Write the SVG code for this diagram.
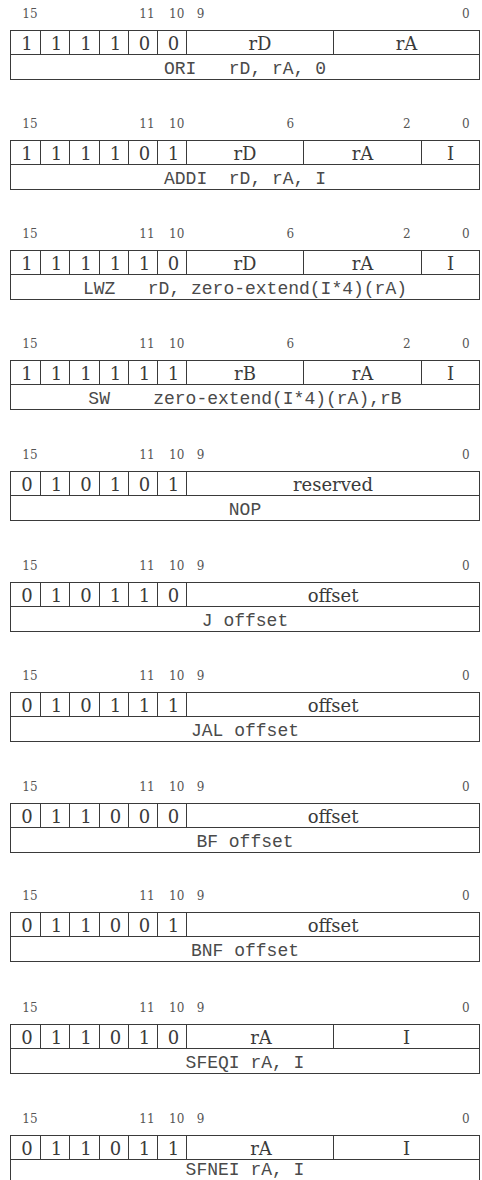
<svg xmlns="http://www.w3.org/2000/svg" xmlns:xlink="http://www.w3.org/1999/xlink" width="482" height="1180" viewBox="0 0 482 1180">
<style>
.box{fill:#fff;stroke:#3a3a3a;stroke-width:1}
.ln{fill:none;stroke:#3a3a3a;stroke-width:1}
.bit{font-family:"DejaVu Serif",serif;font-size:18px;fill:#3a3a3a;text-anchor:middle}
.lbl{font-family:"DejaVu Serif",serif;font-size:12px;fill:#555;text-anchor:middle}
.asm{font-family:"Liberation Mono",monospace;font-size:18px;fill:#4a4a4a;text-anchor:middle;white-space:pre}
</style>
<defs>
<g id="frame">
<rect class="box" x="10.5" y="0" width="469" height="49"/>
<path class="ln" d="M10.5 24H479.5M40.5 0V24M69.5 0V24M99.5 0V24M128.5 0V24M157.5 0V24M186.5 0V24"/>
</g>
</defs>
<rect x="0" y="0" width="482" height="1180" fill="#fff"/>
<g id="connectors"></g>

<g id="ori" transform="translate(0,30.5)">
<use href="#frame"/>
<path class="ln" d="M333.5 0V24"/>
<text class="lbl" x="30" y="-13">15</text><text class="lbl" x="147" y="-13">11</text><text class="lbl" x="176.7" y="-13">10</text><text class="lbl" x="200.5" y="-13">9</text><text class="lbl" x="465.8" y="-13">0</text>
<text class="bit" x="27" y="19">1</text><text class="bit" x="56.5" y="19">1</text><text class="bit" x="86" y="19">1</text><text class="bit" x="115.5" y="19">1</text><text class="bit" x="144.5" y="19">0</text><text class="bit" x="173.5" y="19">0</text>
<text class="bit" x="260" y="19">rD</text><text class="bit" x="406.5" y="19">rA</text>
<text class="asm" x="245" y="43" xml:space="preserve">ORI   rD, rA, 0</text>
</g>

<g id="addi" transform="translate(0,140.5)">
<use href="#frame"/>
<path class="ln" d="M303.5 0V24M421.5 0V24"/>
<text class="lbl" x="30" y="-13">15</text><text class="lbl" x="147" y="-13">11</text><text class="lbl" x="176.7" y="-13">10</text><text class="lbl" x="290.3" y="-13">6</text><text class="lbl" x="406.7" y="-13">2</text><text class="lbl" x="465.8" y="-13">0</text>
<text class="bit" x="27" y="19">1</text><text class="bit" x="56.5" y="19">1</text><text class="bit" x="86" y="19">1</text><text class="bit" x="115.5" y="19">1</text><text class="bit" x="144.5" y="19">0</text><text class="bit" x="173.5" y="19">1</text>
<text class="bit" x="245" y="19">rD</text><text class="bit" x="362.5" y="19">rA</text><text class="bit" x="450.5" y="19">I</text>
<text class="asm" x="245" y="43" xml:space="preserve">ADDI  rD, rA, I</text>
</g>

<g id="lwz" transform="translate(0,250.5)">
<use href="#frame"/>
<path class="ln" d="M303.5 0V24M421.5 0V24"/>
<text class="lbl" x="30" y="-13">15</text><text class="lbl" x="147" y="-13">11</text><text class="lbl" x="176.7" y="-13">10</text><text class="lbl" x="290.3" y="-13">6</text><text class="lbl" x="406.7" y="-13">2</text><text class="lbl" x="465.8" y="-13">0</text>
<text class="bit" x="27" y="19">1</text><text class="bit" x="56.5" y="19">1</text><text class="bit" x="86" y="19">1</text><text class="bit" x="115.5" y="19">1</text><text class="bit" x="144.5" y="19">1</text><text class="bit" x="173.5" y="19">0</text>
<text class="bit" x="245" y="19">rD</text><text class="bit" x="362.5" y="19">rA</text><text class="bit" x="450.5" y="19">I</text>
<text class="asm" x="245" y="43" xml:space="preserve">LWZ   rD, zero-extend(I*4)(rA)</text>
</g>

<g id="sw" transform="translate(0,360.5)">
<use href="#frame"/>
<path class="ln" d="M303.5 0V24M421.5 0V24"/>
<text class="lbl" x="30" y="-13">15</text><text class="lbl" x="147" y="-13">11</text><text class="lbl" x="176.7" y="-13">10</text><text class="lbl" x="290.3" y="-13">6</text><text class="lbl" x="406.7" y="-13">2</text><text class="lbl" x="465.8" y="-13">0</text>
<text class="bit" x="27" y="19">1</text><text class="bit" x="56.5" y="19">1</text><text class="bit" x="86" y="19">1</text><text class="bit" x="115.5" y="19">1</text><text class="bit" x="144.5" y="19">1</text><text class="bit" x="173.5" y="19">1</text>
<text class="bit" x="245" y="19">rB</text><text class="bit" x="362.5" y="19">rA</text><text class="bit" x="450.5" y="19">I</text>
<text class="asm" x="245" y="43" xml:space="preserve">SW    zero-extend(I*4)(rA),rB</text>
</g>

<g id="nop" transform="translate(0,471.5)">
<use href="#frame"/>
<text class="lbl" x="30" y="-13">15</text><text class="lbl" x="147" y="-13">11</text><text class="lbl" x="176.7" y="-13">10</text><text class="lbl" x="200.5" y="-13">9</text><text class="lbl" x="465.8" y="-13">0</text>
<text class="bit" x="27" y="19">0</text><text class="bit" x="56.5" y="19">1</text><text class="bit" x="86" y="19">0</text><text class="bit" x="115.5" y="19">1</text><text class="bit" x="144.5" y="19">0</text><text class="bit" x="173.5" y="19">1</text>
<text class="bit" x="333" y="19">reserved</text>
<text class="asm" x="245" y="43">NOP</text>
</g>

<g id="j" transform="translate(0,582.5)">
<use href="#frame"/>
<text class="lbl" x="30" y="-13">15</text><text class="lbl" x="147" y="-13">11</text><text class="lbl" x="176.7" y="-13">10</text><text class="lbl" x="200.5" y="-13">9</text><text class="lbl" x="465.8" y="-13">0</text>
<text class="bit" x="27" y="19">0</text><text class="bit" x="56.5" y="19">1</text><text class="bit" x="86" y="19">0</text><text class="bit" x="115.5" y="19">1</text><text class="bit" x="144.5" y="19">1</text><text class="bit" x="173.5" y="19">0</text>
<text class="bit" x="333" y="19">offset</text>
<text class="asm" x="245" y="43">J offset</text>
</g>

<g id="jal" transform="translate(0,692.5)">
<use href="#frame"/>
<text class="lbl" x="30" y="-13">15</text><text class="lbl" x="147" y="-13">11</text><text class="lbl" x="176.7" y="-13">10</text><text class="lbl" x="200.5" y="-13">9</text><text class="lbl" x="465.8" y="-13">0</text>
<text class="bit" x="27" y="19">0</text><text class="bit" x="56.5" y="19">1</text><text class="bit" x="86" y="19">0</text><text class="bit" x="115.5" y="19">1</text><text class="bit" x="144.5" y="19">1</text><text class="bit" x="173.5" y="19">1</text>
<text class="bit" x="333" y="19">offset</text>
<text class="asm" x="245" y="43">JAL offset</text>
</g>

<g id="bf" transform="translate(0,803.5)">
<use href="#frame"/>
<text class="lbl" x="30" y="-13">15</text><text class="lbl" x="147" y="-13">11</text><text class="lbl" x="176.7" y="-13">10</text><text class="lbl" x="200.5" y="-13">9</text><text class="lbl" x="465.8" y="-13">0</text>
<text class="bit" x="27" y="19">0</text><text class="bit" x="56.5" y="19">1</text><text class="bit" x="86" y="19">1</text><text class="bit" x="115.5" y="19">0</text><text class="bit" x="144.5" y="19">0</text><text class="bit" x="173.5" y="19">0</text>
<text class="bit" x="333" y="19">offset</text>
<text class="asm" x="245" y="43">BF offset</text>
</g>

<g id="bnf" transform="translate(0,912.5)">
<use href="#frame"/>
<text class="lbl" x="30" y="-13">15</text><text class="lbl" x="147" y="-13">11</text><text class="lbl" x="176.7" y="-13">10</text><text class="lbl" x="200.5" y="-13">9</text><text class="lbl" x="465.8" y="-13">0</text>
<text class="bit" x="27" y="19">0</text><text class="bit" x="56.5" y="19">1</text><text class="bit" x="86" y="19">1</text><text class="bit" x="115.5" y="19">0</text><text class="bit" x="144.5" y="19">0</text><text class="bit" x="173.5" y="19">1</text>
<text class="bit" x="333" y="19">offset</text>
<text class="asm" x="245" y="43">BNF offset</text>
</g>

<g id="sfeqi" transform="translate(0,1024.5)">
<use href="#frame"/>
<path class="ln" d="M333.5 0V24"/>
<text class="lbl" x="30" y="-13">15</text><text class="lbl" x="147" y="-13">11</text><text class="lbl" x="176.7" y="-13">10</text><text class="lbl" x="200.5" y="-13">9</text><text class="lbl" x="465.8" y="-13">0</text>
<text class="bit" x="27" y="19">0</text><text class="bit" x="56.5" y="19">1</text><text class="bit" x="86" y="19">1</text><text class="bit" x="115.5" y="19">0</text><text class="bit" x="144.5" y="19">1</text><text class="bit" x="173.5" y="19">0</text>
<text class="bit" x="261" y="19">rA</text><text class="bit" x="406.5" y="19">I</text>
<text class="asm" x="245" y="43">SFEQI rA, I</text>
</g>

<g id="sfnei" transform="translate(0,1135.5)">
<use href="#frame"/>
<path class="ln" d="M333.5 0V24"/>
<text class="lbl" x="30" y="-13">15</text><text class="lbl" x="147" y="-13">11</text><text class="lbl" x="176.7" y="-13">10</text><text class="lbl" x="200.5" y="-13">9</text><text class="lbl" x="465.8" y="-13">0</text>
<text class="bit" x="27" y="19">0</text><text class="bit" x="56.5" y="19">1</text><text class="bit" x="86" y="19">1</text><text class="bit" x="115.5" y="19">0</text><text class="bit" x="144.5" y="19">1</text><text class="bit" x="173.5" y="19">1</text>
<text class="bit" x="261" y="19">rA</text><text class="bit" x="406.5" y="19">I</text>
<text class="asm" x="245" y="39.5">SFNEI rA, I</text>
</g>
</svg>
